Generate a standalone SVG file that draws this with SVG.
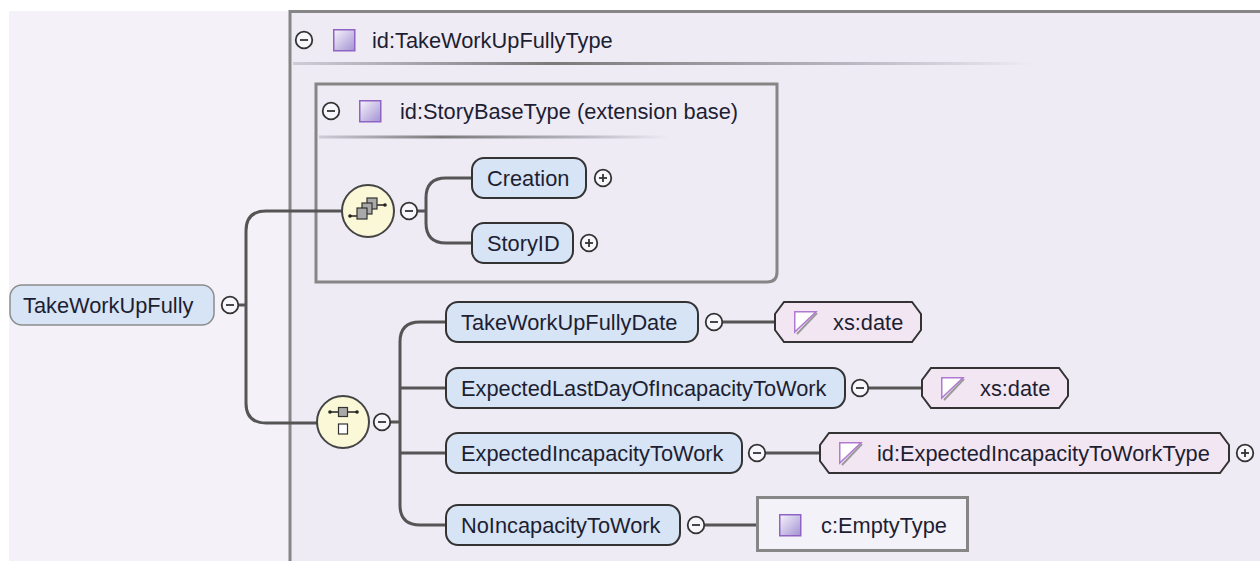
<svg xmlns="http://www.w3.org/2000/svg" width="1260" height="561" viewBox="0 0 1260 561">
<style>
text{font-family:"Liberation Sans",Arial,sans-serif;font-size:21.8px;fill:#1e1e32}
.el{fill:#d6e4f6;stroke:#333;stroke-width:2}
.root{fill:#d6e4f6;stroke:#8c8c8c;stroke-width:1.5}
.ty{fill:#f3e6f3;stroke:#333;stroke-width:2}
.comp{fill:#fbf8d8;stroke:#444;stroke-width:2}
.tog{fill:#f7f7fb;stroke:#333;stroke-width:1.8}
.tl{stroke:#333;stroke-width:1.8}
.box{fill:none;stroke:#868686;stroke-width:3}
.conn{fill:none;stroke:#555;stroke-width:3}
.ic{fill:#a9a9a9;stroke:#333;stroke-width:1.2}
</style>
<defs>
<linearGradient id="sqg" x1="0" y1="0" x2="1" y2="1">
<stop offset="0" stop-color="#f6f4fc"/><stop offset="1" stop-color="#a292d2"/>
</linearGradient>
<linearGradient id="sep" x1="0" y1="0" x2="1" y2="0">
<stop offset="0" stop-color="#cfcbd8"/><stop offset="0.35" stop-color="#7a7a7a"/><stop offset="0.75" stop-color="#b8b6c0"/><stop offset="1" stop-color="#eeebf5"/>
</linearGradient>
<g id="tm"><circle r="8.3" class="tog"/><line x1="-4" x2="4" class="tl"/></g>
<g id="tp"><circle r="8.3" class="tog"/><line x1="-4" x2="4" class="tl"/><line y1="-4" y2="4" class="tl"/></g>
<g id="sq"><rect x="0.75" y="0.75" width="21" height="21" fill="url(#sqg)" stroke="#8f63c4" stroke-width="1.5"/></g>
<g id="st"><line x1="23" y1="2" x2="3" y2="23" stroke="#9a9a9a" stroke-width="2"/><polygon points="0.75,0.75 22,0.75 0.75,21" fill="#fff" stroke="#b079d2" stroke-width="1.5"/></g>
</defs>
<rect width="1260" height="561" fill="#fff"/>
<rect x="9" y="11" width="1251" height="550" fill="#f4f2f8"/>
<g id="typebox">
<rect x="290" y="11" width="970" height="550" fill="#eeebf5"/>
<path d="M290 561 V11.5 H1260" class="box"/>
<use href="#tm" x="304" y="40"/>
<use href="#sq" x="333" y="29"/>
<text x="372" y="48">id:TakeWorkUpFullyType</text>
<rect x="293" y="62" width="740" height="3" fill="url(#sep)"/>
</g>
<g id="basebox">
<path d="M316 84 H777 V272 Q777 282 767 282 H316 Z" class="box"/>
<use href="#tm" x="331" y="111"/>
<use href="#sq" x="359" y="100"/>
<text x="400" y="119">id:StoryBaseType (extension base)</text>
<rect x="319" y="135.5" width="350" height="3" fill="url(#sep)"/>
</g>
<g id="connectors">
<path d="M238 305 H246 M342 211 H266 Q246 211 246 231 V403 Q246 423 266 423 H317" class="conn"/>
<path d="M417 211 H426 M472 178 H446 Q426 178 426 198 V223 Q426 243 446 243 H472" class="conn"/>
<path d="M390 422 H400 M446 322 H420 Q400 322 400 342 V505 Q400 525 420 525 H446 M400 388 H446 M400 453 H446" class="conn"/>
<path d="M722 322 H775 M868 388 H922 M765 453 H820 M704 525 H757" class="conn"/>
</g>
<g id="TakeWorkUpFully">
<rect x="10" y="285" width="204" height="40" rx="12" class="root"/>
<text x="23" y="313">TakeWorkUpFully</text>
<use href="#tm" x="230" y="305"/>
</g>
<g id="seqBase">
<circle cx="368" cy="211" r="26" class="comp"/>
<line x1="350" y1="216" x2="357" y2="216" stroke="#222" stroke-width="1.5"/>
<circle cx="350" cy="216" r="1.8" fill="#222"/>
<line x1="377" y1="205" x2="385" y2="205" stroke="#222" stroke-width="1.5"/>
<circle cx="385" cy="205" r="1.8" fill="#222"/>
<rect x="367" y="198" width="10" height="11" class="ic"/>
<rect x="362" y="203" width="10" height="11" class="ic"/>
<rect x="357" y="208" width="10" height="11" class="ic"/>
<use href="#tm" x="409" y="211"/>
</g>
<g id="Creation">
<rect x="472" y="158" width="114" height="40" rx="12" class="el"/>
<text x="487" y="186">Creation</text>
<use href="#tp" x="603" y="178"/>
</g>
<g id="StoryID">
<rect x="472" y="223" width="101" height="40" rx="12" class="el"/>
<text x="487" y="251">StoryID</text>
<use href="#tp" x="589" y="243"/>
</g>
<g id="seqMain">
<circle cx="343" cy="422" r="26" class="comp"/>
<line x1="330" y1="412" x2="357" y2="412" stroke="#222" stroke-width="1.5"/>
<circle cx="330" cy="412" r="1.8" fill="#222"/>
<circle cx="357" cy="412" r="1.8" fill="#222"/>
<rect x="338.5" y="407.5" width="9" height="9" class="ic"/>
<rect x="338.5" y="424" width="9" height="10" fill="#fff" stroke="#333" stroke-width="1.2"/>
<use href="#tm" x="382" y="422"/>
</g>
<g id="TakeWorkUpFullyDate">
<rect x="446" y="302" width="252" height="40" rx="12" class="el"/>
<text x="461" y="330">TakeWorkUpFullyDate</text>
<use href="#tm" x="714" y="322"/>
</g>
<g id="type1">
<path d="M784 302 H912 L921 314 V330 L912 342 H784 L775 330 V314 Z" class="ty"/>
<use href="#st" x="794" y="311"/>
<text x="833" y="330">xs:date</text>
</g>
<g id="ExpectedLastDayOfIncapacityToWork">
<rect x="446" y="368" width="399" height="40" rx="12" class="el"/>
<text x="461" y="396">ExpectedLastDayOfIncapacityToWork</text>
<use href="#tm" x="860" y="388"/>
</g>
<g id="type2">
<path d="M931 368 H1059 L1068 380 V396 L1059 408 H931 L922 396 V380 Z" class="ty"/>
<use href="#st" x="941" y="377"/>
<text x="980" y="396">xs:date</text>
</g>
<g id="ExpectedIncapacityToWork">
<rect x="446" y="433" width="296" height="40" rx="12" class="el"/>
<text x="461" y="461">ExpectedIncapacityToWork</text>
<use href="#tm" x="757" y="453"/>
</g>
<g id="type3">
<path d="M829 433 H1220 L1229 445 V461 L1220 473 H829 L820 461 V445 Z" class="ty"/>
<use href="#st" x="839" y="442"/>
<text x="877" y="461">id:ExpectedIncapacityToWorkType</text>
<use href="#tp" x="1245" y="453"/>
</g>
<g id="NoIncapacityToWork">
<rect x="446" y="505" width="234" height="40" rx="12" class="el"/>
<text x="461" y="533">NoIncapacityToWork</text>
<use href="#tm" x="696" y="525"/>
</g>
<g id="emptyType">
<rect x="757.5" y="497.5" width="210" height="53" fill="#f4f2f9" stroke="#868686" stroke-width="3"/>
<use href="#sq" x="779" y="514"/>
<text x="821" y="533">c:EmptyType</text>
</g>
</svg>
